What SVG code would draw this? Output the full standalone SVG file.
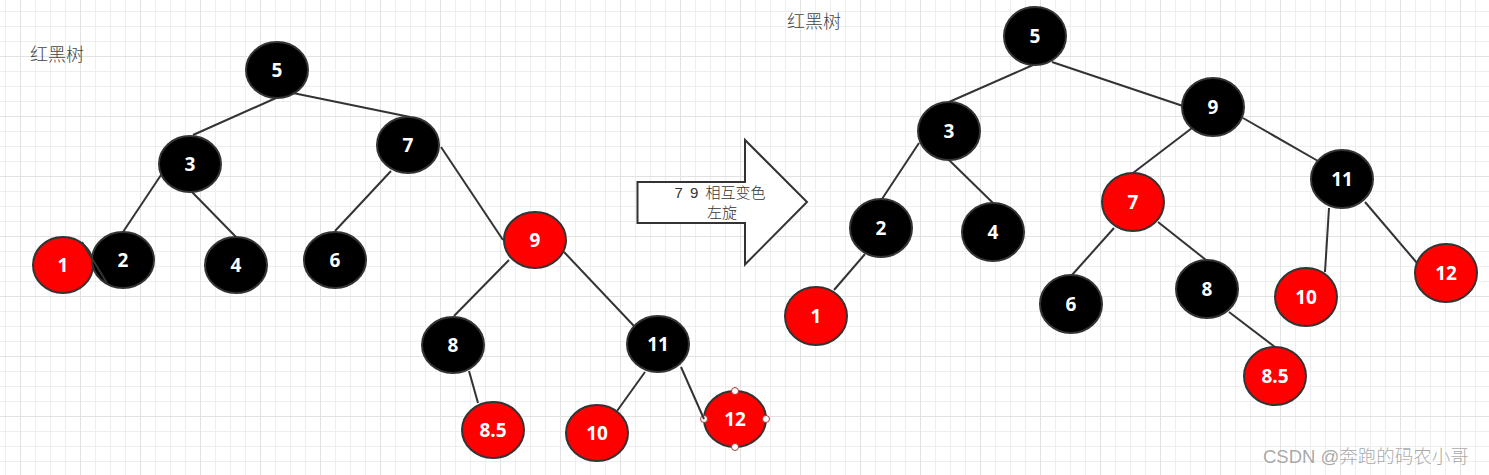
<svg xmlns="http://www.w3.org/2000/svg" width="1489" height="475" viewBox="0 0 1489 475">
<defs>
<pattern id="grid" patternUnits="userSpaceOnUse" x="20" y="56" width="60" height="60">
<path d="M15.5 0V60M30.5 0V60M45.5 0V60M0 15.5H60M0 30.5H60M0 45.5H60" stroke="#eeeeee" stroke-width="1" fill="none"/>
<path d="M0.5 0V60M0 0.5H60" stroke="#e2e2e2" stroke-width="1" fill="none"/>
</pattern>
<style>
.b{fill:#000;stroke:#333;stroke-width:2}
.r{fill:#ff0000;stroke:#333;stroke-width:2}
.t{fill:#fff;font-family:"Open Sans","Noto Sans",sans-serif;font-weight:bold;font-size:19px;text-anchor:middle;dominant-baseline:central}
.e{stroke:#333;stroke-width:2;fill:none}
.lbl{fill:#444;font-family:"Liberation Sans","Noto Sans CJK SC",sans-serif;font-size:18px;font-weight:300}
.h{fill:#fff;stroke:#a33;stroke-width:1}
.at{font-family:"Liberation Sans","Noto Sans CJK SC",sans-serif;font-size:15px;fill:#333;text-anchor:middle;font-weight:300}
</style>
</defs>
<rect width="1489" height="475" fill="#fff"/>
<rect width="1489" height="475" fill="url(#grid)"/>

<text class="lbl" x="30" y="61">红黑树</text>
<text class="lbl" x="787" y="28">红黑树</text>

<g id="arrow">
<polygon points="637.5,182 745,182 745,140 807,202 745,264.5 745,223 637.5,223" fill="#fff" stroke="#333" stroke-width="2"/>
<text class="at" x="720" y="198" word-spacing="3">7 9 相互变色</text>
<text class="at" x="722" y="218">左旋</text>
</g>

<g id="L5"><ellipse class="b" cx="277" cy="70" rx="31" ry="28"/><text class="t" x="277" y="70">5</text></g>
<g id="L3"><ellipse class="b" cx="190" cy="164" rx="31" ry="28"/><text class="t" x="190" y="164">3</text></g>
<g id="L7"><ellipse class="b" cx="408" cy="145" rx="31" ry="28"/><text class="t" x="408" y="145">7</text></g>
<g id="L1"><ellipse class="r" cx="63" cy="265" rx="30" ry="28"/><text class="t" x="63" y="265">1</text></g>
<g id="L2"><ellipse class="b" cx="123" cy="260" rx="31" ry="28"/><text class="t" x="123" y="260">2</text></g>
<g id="L4"><ellipse class="b" cx="236" cy="265" rx="31" ry="28"/><text class="t" x="236" y="265">4</text></g>
<g id="L6"><ellipse class="b" cx="335" cy="260" rx="31" ry="28"/><text class="t" x="335" y="260">6</text></g>
<g id="L9"><ellipse class="r" cx="535" cy="240" rx="31" ry="28"/><text class="t" x="535" y="240">9</text></g>
<g id="L8"><ellipse class="b" cx="453" cy="345" rx="31" ry="28"/><text class="t" x="453" y="345">8</text></g>
<g id="L11"><ellipse class="b" cx="658" cy="344" rx="31" ry="28"/><text class="t" x="658" y="344">11</text></g>
<g id="L85"><ellipse class="r" cx="493" cy="430" rx="31" ry="28"/><text class="t" x="493" y="430">8.5</text></g>
<g id="L10"><ellipse class="r" cx="597" cy="433" rx="31" ry="28"/><text class="t" x="597" y="433">10</text></g>
<g id="L12"><ellipse class="r" cx="735" cy="419" rx="31" ry="28"/><text class="t" x="735" y="419">12</text>
<circle class="h" cx="735" cy="391" r="3.5"/><circle class="h" cx="735" cy="447" r="3.5"/><circle class="h" cx="704" cy="419" r="3.5"/><circle class="h" cx="766" cy="419" r="3.5"/></g>

<g id="R5"><ellipse class="b" cx="1035" cy="36" rx="31" ry="29"/><text class="t" x="1035" y="36">5</text></g>
<g id="R3"><ellipse class="b" cx="949" cy="131" rx="31" ry="29"/><text class="t" x="949" y="131">3</text></g>
<g id="R9"><ellipse class="b" cx="1213" cy="107" rx="31" ry="29"/><text class="t" x="1213" y="107">9</text></g>
<g id="R2"><ellipse class="b" cx="881" cy="228" rx="31" ry="29"/><text class="t" x="881" y="228">2</text></g>
<g id="R4"><ellipse class="b" cx="993" cy="232" rx="31" ry="29"/><text class="t" x="993" y="232">4</text></g>
<g id="R7"><ellipse class="r" cx="1133" cy="202" rx="31" ry="29"/><text class="t" x="1133" y="202">7</text></g>
<g id="R11"><ellipse class="b" cx="1342" cy="179" rx="31" ry="29"/><text class="t" x="1342" y="179">11</text></g>
<g id="R1"><ellipse class="r" cx="816" cy="316" rx="31" ry="29"/><text class="t" x="816" y="316">1</text></g>
<g id="R6"><ellipse class="b" cx="1071" cy="304" rx="31" ry="29"/><text class="t" x="1071" y="304">6</text></g>
<g id="R8"><ellipse class="b" cx="1207" cy="289" rx="31" ry="29"/><text class="t" x="1207" y="289">8</text></g>
<g id="R10"><ellipse class="r" cx="1306" cy="297" rx="31" ry="29"/><text class="t" x="1306" y="297">10</text></g>
<g id="R12"><ellipse class="r" cx="1446" cy="273" rx="31" ry="29"/><text class="t" x="1446" y="273">12</text></g>
<g id="R85"><ellipse class="r" cx="1275" cy="376" rx="31" ry="29"/><text class="t" x="1275" y="376">8.5</text></g>

<g id="connectors" class="e">
<line x1="276" y1="98" x2="193" y2="135"/>
<line x1="293" y1="93" x2="410" y2="117"/>
<line x1="161" y1="175" x2="123" y2="232"/>
<line x1="82" y1="242" x2="107" y2="283"/>
<line x1="192" y1="192" x2="236" y2="237"/>
<line x1="391" y1="171" x2="335" y2="231"/>
<line x1="441" y1="147" x2="503" y2="240"/>
<line x1="509" y1="260" x2="454" y2="316"/>
<line x1="564" y1="252" x2="634" y2="326"/>
<line x1="469" y1="371" x2="478" y2="403"/>
<line x1="645" y1="372" x2="617" y2="411"/>
<line x1="681" y1="367" x2="704" y2="419"/>
<line x1="1033" y1="65" x2="949" y2="102"/>
<line x1="1052" y1="62" x2="1183" y2="106"/>
<line x1="919" y1="143" x2="882" y2="199"/>
<line x1="949" y1="160" x2="993" y2="203"/>
<line x1="1192" y1="128" x2="1133" y2="173"/>
<line x1="1243" y1="118" x2="1318" y2="161"/>
<line x1="865" y1="254" x2="834" y2="290"/>
<line x1="1114" y1="228" x2="1072" y2="275"/>
<line x1="1158" y1="222" x2="1206" y2="260"/>
<line x1="1229" y1="312" x2="1275" y2="347"/>
<line x1="1329" y1="208" x2="1325" y2="272"/>
<line x1="1365" y1="202" x2="1417" y2="263"/>
</g>

<text x="1263" y="463" font-family="Liberation Sans,'Noto Sans CJK SC',sans-serif" font-size="18.5" font-weight="300" fill="#999" fill-opacity="0.85">CSDN @奔跑的码农小哥</text>
</svg>
